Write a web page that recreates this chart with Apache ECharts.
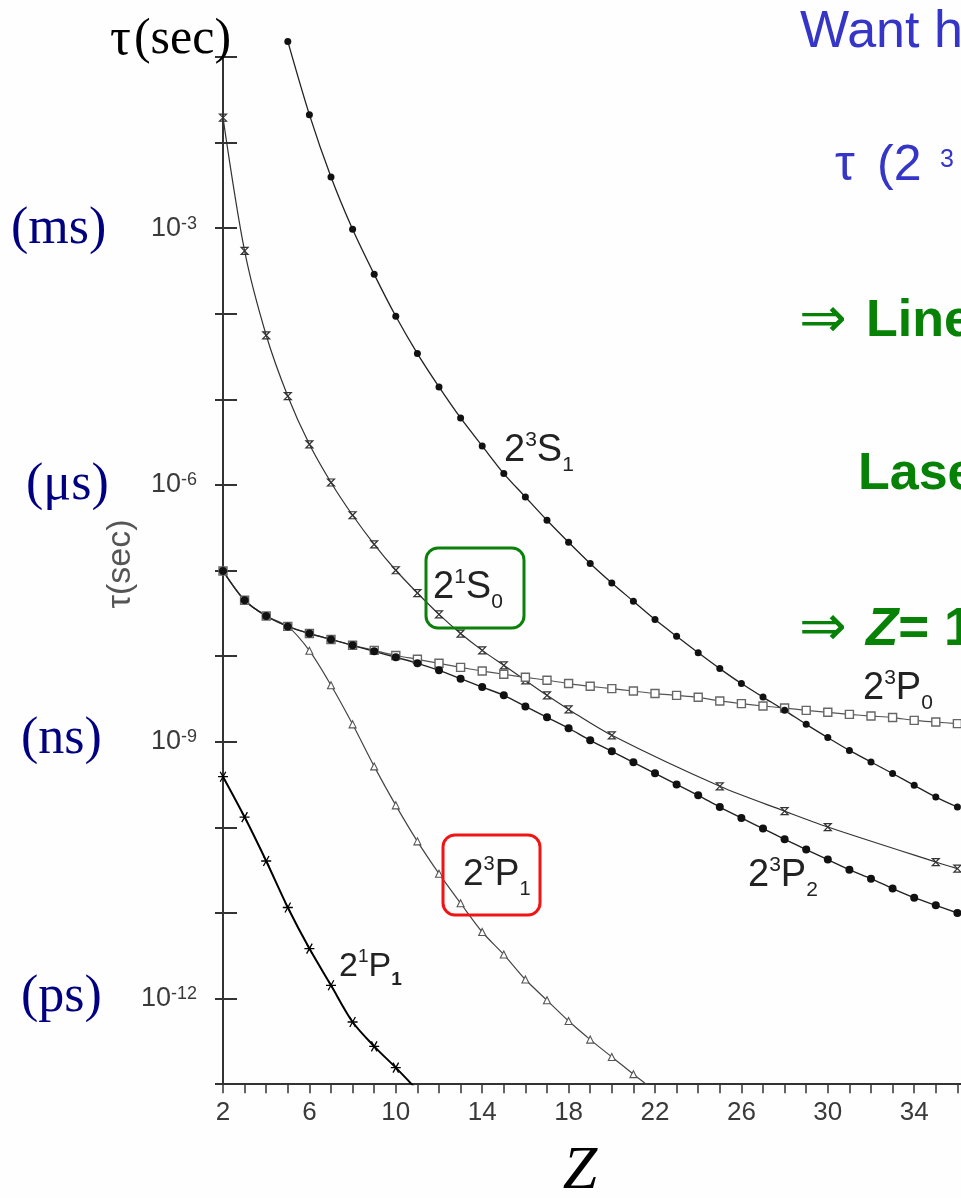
<!DOCTYPE html>
<html>
<head>
<meta charset="utf-8">
<script src="https://cdn.jsdelivr.net/npm/echarts@6/dist/echarts.min.js"></script>
<style>
  html, body { margin: 0; padding: 0; overflow: hidden; background: #fefefe; width: 961px; height: 1198px; }
  #chart { width: 1100px; height: 1198px; }
</style>
</head>
<body>
<div id="chart"></div>
<script>
// Lifetimes tau (seconds) of the n=2 levels of helium-like ions versus nuclear charge Z.

// 2^3S_1
const zS1 = [5, 6, 7, 8, 9, 10, 11, 12, 13, 14, 15, 16, 17, 18, 19, 20, 21, 22, 23, 24, 25, 26, 27, 28, 29, 30, 31, 32, 33, 34, 35, 36];
const tauS1 = [1.52e-1, 2.12e-2, 3.96e-3, 9.7e-4, 2.89e-4, 9.35e-5, 3.43e-5, 1.40e-5, 6.07e-6, 2.86e-6, 1.36e-6, 7.24e-7,
  3.87e-7, 2.14e-7, 1.21e-7, 7.16e-8, 4.38e-8, 2.68e-8, 1.71e-8, 1.10e-8, 7.16e-9, 4.79e-9, 3.33e-9, 2.33e-9,
  1.60e-9, 1.12e-9, 7.94e-10, 5.81e-10, 4.26e-10, 3.10e-10, 2.26e-10, 1.73e-10];

// 2^1S_0
const zS0 = [2, 3, 4, 5, 6, 7, 8, 9, 10, 11, 12, 13, 14, 15, 16, 17, 18, 20, 25, 28, 30, 35, 36];
const tauS0 = [1.96e-2, 5.42e-4, 5.61e-5, 1.09e-5, 2.99e-6, 1.07e-6, 4.43e-7, 2.03e-7, 1.01e-7, 5.47e-8, 3.08e-8, 1.84e-8,
  1.17e-8, 7.82e-9, 5.22e-9, 3.49e-9, 2.39e-9, 1.19e-9, 3.02e-10, 1.55e-10, 1.01e-10, 3.94e-11, 3.30e-11];

// 2^3P_0
const zP0 = [2, 3, 4, 5, 6, 7, 8, 9, 10, 11, 12, 13, 14, 15, 16, 17, 18, 19, 20, 21, 22, 23, 24, 25, 26, 27, 28, 29, 30, 31, 32, 33, 34, 35, 36];
const tauP0 = [9.9e-8, 4.50e-8, 2.95e-8, 2.23e-8, 1.84e-8, 1.57e-8, 1.34e-8, 1.17e-8, 1.02e-8, 9.20e-9, 8.26e-9, 7.41e-9,
  6.71e-9, 6.15e-9, 5.67e-9, 5.24e-9, 4.79e-9, 4.45e-9, 4.18e-9, 3.92e-9, 3.66e-9, 3.49e-9, 3.31e-9, 3.00e-9,
  2.79e-9, 2.62e-9, 2.48e-9, 2.33e-9, 2.21e-9, 2.09e-9, 2.00e-9, 1.92e-9, 1.78e-9, 1.70e-9, 1.63e-9];

// 2^3P_2
const zP2 = [2, 3, 4, 5, 6, 7, 8, 9, 10, 11, 12, 13, 14, 15, 16, 17, 18, 19, 20, 21, 22, 23, 24, 25, 26, 27, 28, 29, 30, 31, 32, 33, 34, 35, 36];
const tauP2 = [9.9e-8, 4.50e-8, 2.95e-8, 2.23e-8, 1.84e-8, 1.57e-8, 1.34e-8, 1.14e-8, 9.71e-9, 8.26e-9, 6.84e-9, 5.47e-9,
  4.36e-9, 3.49e-9, 2.59e-9, 1.93e-9, 1.44e-9, 1.04e-9, 7.74e-10, 5.75e-10, 4.28e-10, 3.18e-10, 2.37e-10, 1.73e-10,
  1.29e-10, 9.68e-11, 7.26e-11, 5.51e-11, 4.21e-11, 3.21e-11, 2.52e-11, 1.93e-11, 1.51e-11, 1.23e-11, 1.00e-11];

// 2^3P_1
const zP1 = [2, 3, 4, 5, 6, 7, 8, 9, 10, 11, 12, 13, 14, 15, 16, 17, 18, 19, 20, 21, 22];
const tauP1 = [9.9e-8, 4.50e-8, 2.95e-8, 2.23e-8, 1.16e-8, 4.57e-9, 1.60e-9, 5.16e-10, 1.81e-10, 6.87e-11, 2.88e-11,
  1.30e-11, 6.00e-12, 3.27e-12, 1.67e-12, 9.55e-13, 5.47e-13, 3.32e-13, 2.08e-13, 1.31e-13, 8.3e-14];

// 2^1P_1
const z1P1 = [2, 3, 4, 5, 6, 7, 8, 9, 10, 11];
const tau1P1 = [3.91e-10, 1.32e-10, 4.05e-11, 1.16e-11, 3.84e-12, 1.43e-12, 5.33e-13, 2.77e-13, 1.56e-13, 8.5e-14];

// axis tick settings
const zLabelStep = 4;
const labelledDecades = [-3, -6, -9, -12];

const SANS = 'Liberation Sans';
const SERIF = 'Liberation Serif';

const pairs = (zs, ts) => zs.map((z, i) => [z, ts[i]]);

// marker outlines
const hourglass = 'path://M0,0L10,0L0,10L10,10Z';
const asterisk = 'path://M0,5L10,5M2.2,0L7.8,10M7.8,0L2.2,10';

// text runs with super/subscripts, laid out with measured advances
const meas = document.createElement('canvas').getContext('2d');
function run(x, cy, parts, color, z) {
  const out = [];
  let cx = x;
  parts.forEach(p => {
    if (p.x !== undefined) cx = p.x;
    const font = (p.style || 'normal') + ' ' + (p.weight || 'normal') + ' ' + p.size + 'px "' + (p.family || SANS) + '"';
    meas.font = font;
    out.push({
      type: 'text', x: cx, y: cy + (p.dy || 0), z: z || 20,
      style: { text: p.t, font: font, fill: p.color || color, align: 'left', verticalAlign: 'middle' }
    });
    cx += meas.measureText(p.t).width + (p.gap || 0);
  });
  return out;
}
function level(x, cy, a, b, c, d, M, subBold) {
  const S = Math.round(M * 0.55);
  return run(x, cy, [
    { t: a, size: M },
    { t: b, size: S, dy: -Math.round(M * 0.3) },
    { t: c, size: M },
    { t: d, size: S, dy: Math.round(M * 0.37), weight: subBold ? 'bold' : 'normal' }
  ], '#222');
}

const BLUE = '#3535c8';
const GREEN = '#078207';

const graphics = [].concat(
  // curve labels
  level(504, 451, '2', '3', 'S', '1', 38),
  level(433, 588, '2', '1', 'S', '0', 38),
  level(863, 689, '2', '3', 'P', '0', 38),
  level(748, 876, '2', '3', 'P', '2', 38),
  level(463, 875, '2', '3', 'P', '1', 37),
  level(339, 967, '2', '1', 'P', '1', 34, true),
  // unit hints beside the decades
  run(11, 229, [{ t: '(ms)', size: 52, family: SERIF }], '#000080'),
  run(26, 485, [{ t: '(\u03bcs)', size: 52, family: SERIF }], '#000080'),
  run(21, 739, [{ t: '(ns)', size: 52, family: SERIF }], '#000080'),
  run(21, 997, [{ t: '(ps)', size: 52, family: SERIF }], '#000080'),
  run(110, 40, [{ t: '\u03c4', size: 52, family: SERIF, gap: 3 }, { t: '(sec)', size: 50, family: SERIF }], '#000'),
  // notes on the right
  run(800, 33, [{ t: 'Want h', size: 52 }], BLUE),
  run(835, 166, [{ t: '\u03c4', size: 50 }, { t: '(2', size: 50, x: 877 }, { t: '3', size: 25, dy: -6, x: 940 }], BLUE),
  run(799, 322, [{ t: '\u21d2', size: 57, family: 'DejaVu Sans' }, { t: 'Line', size: 52, weight: 'bold', x: 866 }], GREEN),
  run(858, 475, [{ t: 'Lase', size: 52, weight: 'bold' }], GREEN),
  run(799, 630, [{ t: '\u21d2', size: 57, family: 'DejaVu Sans' }, { t: 'Z', size: 53, weight: 'bold', style: 'italic', x: 866 }, { t: '= 1', size: 53, weight: 'bold' }], GREEN),
  [
    { type: 'rect', z: 19, shape: { x: 426, y: 548, width: 98, height: 80, r: 12 }, style: { fill: 'none', stroke: '#0b800b', lineWidth: 3 } },
    { type: 'rect', z: 19, shape: { x: 443, y: 835, width: 97, height: 80, r: 12 }, style: { fill: 'none', stroke: '#f01414', lineWidth: 3 } },
    { type: 'text', x: 121, y: 564, rotation: Math.PI / 2, z: 20,
      style: { text: '\u03c4(sec)', font: 'normal 34px "' + SANS + '"', fill: '#555', align: 'center', verticalAlign: 'middle' } },
    { type: 'text', x: 580, y: 1172, z: 20,
      style: { text: 'Z', font: 'italic 62px "' + SERIF + '"', fill: '#000', align: 'center', verticalAlign: 'middle' } }
  ]
);

const chart = echarts.init(document.getElementById('chart'), null, { renderer: 'canvas' });

const option = {
  backgroundColor: '#fefefe',
  animation: false,
  grid: { left: 223, top: 57, width: 820.8, height: 1027.2, containLabel: false },
  xAxis: {
    type: 'value', min: 2, max: 40, interval: 1,
    axisLine: { lineStyle: { color: '#333', width: 2 } },
    axisTick: { length: 9, lineStyle: { color: '#333', width: 1.5 } },
    splitLine: { show: false },
    axisLabel: {
      margin: 16, color: '#3a3a3a', fontSize: 26, fontFamily: SANS,
      formatter: v => ((v - 2) % zLabelStep === 0 ? String(v) : '')
    }
  },
  yAxis: [
    {
      type: 'log', logBase: 10, min: 1e-13, max: 1e-1, interval: 1, splitNumber: 12,
      axisLine: { lineStyle: { color: '#333', width: 2 } },
      axisTick: { length: 8, lineStyle: { color: '#333', width: 2 } },
      splitLine: { show: false },
      axisLabel: {
        margin: 26, color: '#3a3a3a',
        formatter: v => {
          const e = Math.round(Math.log10(v));
          return labelledDecades.includes(e) ? '{b|10}{s|-' + (-e) + '}' : '';
        },
        rich: {
          b: { fontSize: 27, fontFamily: SANS, color: '#3a3a3a', lineHeight: 27, verticalAlign: 'bottom' },
          s: { fontSize: 18, fontFamily: SANS, color: '#3a3a3a', lineHeight: 18, verticalAlign: 'top', padding: [0, 0, 12, 0] }
        }
      }
    },
    {
      type: 'log', logBase: 10, min: 1e-13, max: 1e-1, interval: 1, splitNumber: 12,
      position: 'left', offset: 0,
      axisLine: { show: false },
      axisTick: { inside: true, length: 14, lineStyle: { color: '#333', width: 2 } },
      splitLine: { show: false },
      axisLabel: { show: false }
    }
  ],
  series: [
    {
      name: '2^1P_1', type: 'line', data: pairs(z1P1, tau1P1), smooth: 0.3, clip: true,
      lineStyle: { color: '#000', width: 2 },
      symbol: asterisk, symbolSize: 10,
      itemStyle: { color: 'rgba(0,0,0,0)', borderColor: '#000', borderWidth: 1.3 }
    },
    {
      name: '2^3P_1', type: 'line', data: pairs(zP1, tauP1), smooth: 0.3, clip: true,
      lineStyle: { color: '#444', width: 1.2 },
      symbol: 'triangle', symbolSize: 7,
      itemStyle: { color: '#fff', borderColor: '#555', borderWidth: 1.1 }
    },
    {
      name: '2^1S_0', type: 'line', data: pairs(zS0, tauS0), smooth: 0.3, clip: true,
      lineStyle: { color: '#333', width: 1.2 },
      symbol: hourglass, symbolSize: 7,
      itemStyle: { color: 'rgba(0,0,0,0)', borderColor: '#333', borderWidth: 1.2 }
    },
    {
      name: '2^3P_0', type: 'line', data: pairs(zP0, tauP0), smooth: 0.3, clip: true,
      lineStyle: { color: '#555', width: 1.2 },
      symbol: 'rect', symbolSize: 8,
      itemStyle: { color: '#fff', borderColor: '#666', borderWidth: 1.4 }
    },
    {
      name: '2^3P_2', type: 'line', data: pairs(zP2, tauP2), smooth: 0.3, clip: true,
      lineStyle: { color: '#222', width: 1.4 },
      symbol: 'circle', symbolSize: 8,
      itemStyle: { color: '#111' }
    },
    {
      name: '2^3S_1', type: 'line', data: pairs(zS1, tauS1), smooth: 0.3, clip: false,
      lineStyle: { color: '#222', width: 1.3 },
      symbol: 'circle', symbolSize: 7,
      itemStyle: { color: '#111' }
    }
  ],
  graphic: graphics
};

chart.setOption(option);
</script>
</body>
</html>
